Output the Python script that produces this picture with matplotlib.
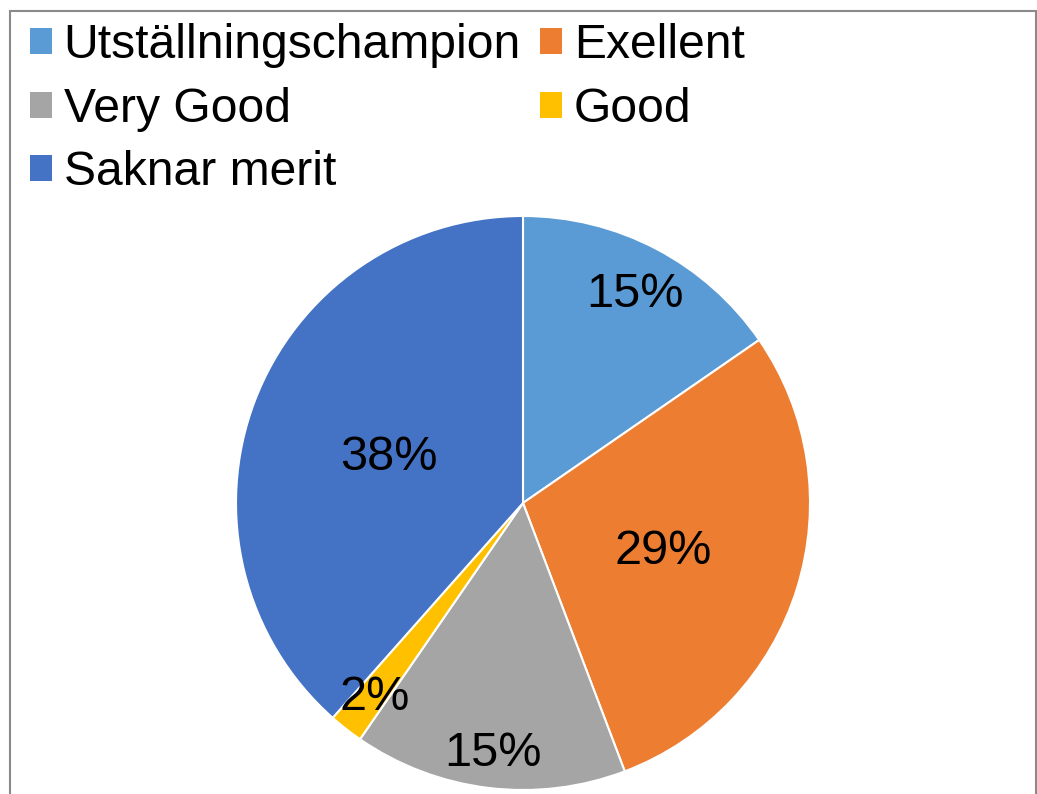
import numpy as np
import matplotlib
matplotlib.use("Agg")
import matplotlib.pyplot as plt
from matplotlib.patches import Patch, Rectangle

# counts behind the percentages
categories = ["Utställningschampion", "Exellent", "Very Good", "Good", "Saknar merit"]
counts = [8, 15, 8, 1, 20]
colors = ["#5B9BD5", "#ED7D31", "#A5A5A5", "#FFC000", "#4472C4"]
# how far out each percent label sits (fraction of radius)
label_dist = [0.84, 0.51, 0.86, 0.84, 0.50]

plt.rcParams["font.family"] = ["Liberation Sans", "DejaVu Sans"]

W, H = 1037, 794
fig = plt.figure(figsize=(W / 100, H / 100), dpi=100)

# pie centre and radius in pixels
cx, cy, r = 523, 503, 287
ax = fig.add_axes([(cx - r) / W, (H - cy - r) / H, 2 * r / W, 2 * r / H])
wedges, texts, autotexts = ax.pie(
    counts, colors=colors, startangle=90, counterclock=False,
    autopct=lambda p: f"{p:.0f}%", radius=1,
    wedgeprops=dict(edgecolor="white", linewidth=1.5),
    textprops=dict(fontsize=35, color="black"))
ax.set_xlim(-1, 1)
ax.set_ylim(-1, 1)
ax.set_aspect("auto")

for w, t, d in zip(wedges, autotexts, label_dist):
    mid = np.deg2rad((w.theta1 + w.theta2) / 2)
    t.set_position((d * np.cos(mid), d * np.sin(mid)))
    t.set_ha("center")
    t.set_va("center_baseline")

# legend: Excel-like row order
order = [0, 2, 4, 1, 3]
handles = [Patch(facecolor=colors[i], edgecolor="none") for i in order]
labels = [categories[i] for i in order]
fig.legend(handles, labels, ncol=2, loc="upper left",
           bbox_to_anchor=(30 / W, 1 - 23 / H), frameon=False,
           fontsize=34.6, handlelength=0.45, handleheight=0.45,
           handletextpad=0.25, columnspacing=0.4, labelspacing=0.39,
           borderpad=0, borderaxespad=0)

# outer chart frame
fig.add_artist(Rectangle((10 / W, -0.05), (1036 - 10) / W, 1.05 - 11 / H,
                         transform=fig.transFigure, fill=False,
                         edgecolor="#8a8a8a", linewidth=1.5))

fig.savefig("out.png", dpi=100)
